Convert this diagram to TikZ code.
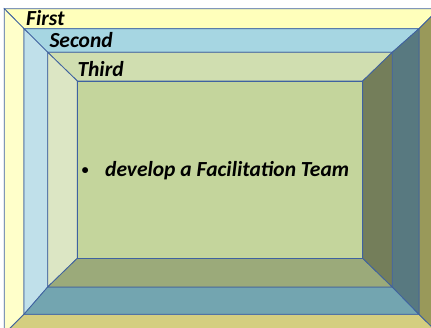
\documentclass[tikz,border=0pt]{standalone}
\usepackage{fontspec}
\setmainfont{Carlito}
\definecolor{edgeblue}{RGB}{63,98,160}
\definecolor{outerT}{RGB}{255,255,187}
\definecolor{outerL}{RGB}{255,255,202}
\definecolor{outerB}{RGB}{212,206,128}
\definecolor{outerR}{RGB}{153,153,90}
\definecolor{secondT}{RGB}{166,214,226}
\definecolor{secondL}{RGB}{192,224,234}
\definecolor{secondB}{RGB}{115,165,176}
\definecolor{secondR}{RGB}{88,121,128}
\definecolor{thirdT}{RGB}{208,222,176}
\definecolor{thirdL}{RGB}{220,230,196}
\definecolor{thirdB}{RGB}{155,170,122}
\definecolor{thirdR}{RGB}{116,126,90}
\definecolor{core}{RGB}{196,213,156}
\begin{document}
\begin{tikzpicture}[x=1pt,y=-1pt,
  pane/.style={draw=edgeblue,line width=0.8pt,line join=miter},
  lbl/.style={font=\fontsize{21.5}{25}\selectfont\bfseries\itshape,anchor=base west,inner sep=0pt}]
\useasboundingbox (0,0) rectangle (431,327);
\clip (0,0) rectangle (431,327);
\foreach \xa/\ya/\xb/\yb/\xc/\yc/\xd/\yd/\ct/\cl/\cb/\cr in {
  4.3/8.7/439/334/24/28.7/419/314.3/outerT/outerL/outerB/outerR,
  24/28.7/419/314.3/47.7/52.3/392.3/287/secondT/secondL/secondB/secondR,
  47.7/52.3/392.3/287/77.3/81/362.7/258.3/thirdT/thirdL/thirdB/thirdR}
{
  \filldraw[pane,fill=\ct] (\xa,\ya)--(\xb,\ya)--(\xd,\yc)--(\xc,\yc)--cycle;
  \filldraw[pane,fill=\cl] (\xa,\ya)--(\xc,\yc)--(\xc,\yd)--(\xa,\yb)--cycle;
  \filldraw[pane,fill=\cb] (\xa,\yb)--(\xc,\yd)--(\xd,\yd)--(\xb,\yb)--cycle;
  \filldraw[pane,fill=\cr] (\xb,\ya)--(\xb,\yb)--(\xd,\yd)--(\xd,\yc)--cycle;
}
\filldraw[pane,fill=core] (77.3,81) rectangle (362.7,258.3);
\path (26,25.3) node[lbl] (first) {First};
\path (49.3,47.7) node[lbl] (second) {Second};
\path (77.3,76.7) node[lbl] (third) {Third};
\path (81.5,174.5) node[lbl] (bullet) {{\fontsize{14}{16}\selectfont\textbullet}};
\path (105,176.7) node[lbl] (team) {develop a Facilitation Team};
\end{tikzpicture}
\end{document}
